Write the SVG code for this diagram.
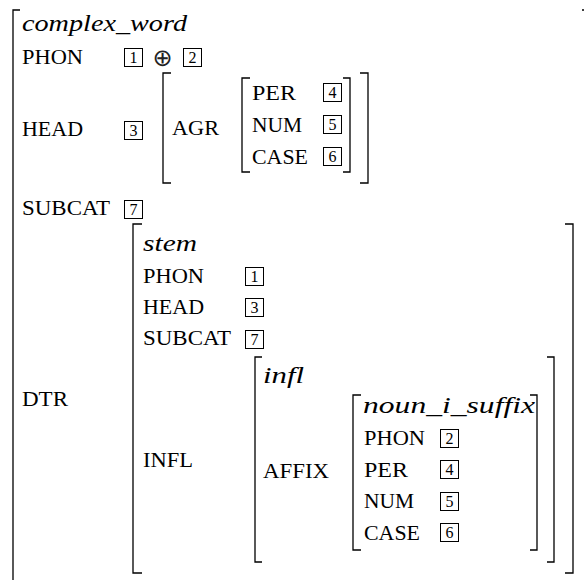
<svg xmlns="http://www.w3.org/2000/svg" width="584" height="580" viewBox="0 0 584 580">
<style>
text{font-family:"Liberation Serif","Times New Roman",serif}
.t{font-size:21px;fill:#000}
.i{font-style:italic;font-size:23px;fill:#000}
.n{font-size:16px;fill:#000;text-anchor:middle}
.b{fill:none;stroke:#000;stroke-width:1.3}
.bx{fill:none;stroke:#000;stroke-width:1}
</style>
<rect width="584" height="580" fill="#fff"/>
<g id="complex_word">
<path class="b" d="M20 10H13V600"/>
<path class="b" d="M582 10H586V600"/>
<text class="i" x="22" y="31" textLength="165" lengthAdjust="spacingAndGlyphs">complex_word</text>
<text class="t" x="22" y="64" textLength="61" lengthAdjust="spacingAndGlyphs">PHON</text>
<rect class="bx" x="124.5" y="48.5" width="18" height="18"/><text class="n" x="133.5" y="63">1</text>
<text x="162.5" y="65.5" style="font-family:'DejaVu Sans',sans-serif;font-size:24px;text-anchor:middle;fill:#222">⊕</text>
<rect class="bx" x="183.5" y="48.5" width="18" height="18"/><text class="n" x="192.5" y="63">2</text>
<text class="t" x="22" y="136" textLength="61" lengthAdjust="spacingAndGlyphs">HEAD</text>
<rect class="bx" x="124.5" y="121.5" width="18" height="18"/><text class="n" x="133.5" y="136">3</text>
<text class="t" x="22" y="215" textLength="88" lengthAdjust="spacingAndGlyphs">SUBCAT</text>
<rect class="bx" x="124.5" y="200.5" width="18" height="18"/><text class="n" x="133.5" y="215">7</text>
<text class="t" x="22" y="406" textLength="46" lengthAdjust="spacingAndGlyphs">DTR</text>
</g>
<g id="agr">
<path class="b" d="M171 73H163V183H171"/>
<path class="b" d="M360 73H368V183H360"/>
<text class="t" x="172" y="135" textLength="47" lengthAdjust="spacingAndGlyphs">AGR</text>
</g>
<g id="agr_value">
<path class="b" d="M250 78H242V172H250"/>
<path class="b" d="M343 78H350V172H343"/>
<text class="t" x="252" y="100" textLength="44" lengthAdjust="spacingAndGlyphs">PER</text>
<rect class="bx" x="323.5" y="83.5" width="18" height="18"/><text class="n" x="332.5" y="98">4</text>
<text class="t" x="252" y="132" textLength="50" lengthAdjust="spacingAndGlyphs">NUM</text>
<rect class="bx" x="323.5" y="115.5" width="18" height="18"/><text class="n" x="332.5" y="130">5</text>
<text class="t" x="252" y="164" textLength="56" lengthAdjust="spacingAndGlyphs">CASE</text>
<rect class="bx" x="323.5" y="147.5" width="18" height="18"/><text class="n" x="332.5" y="162">6</text>
</g>
<g id="stem">
<path class="b" d="M142 224H133V573H142"/>
<path class="b" d="M565 224H573V573H565"/>
<text class="i" x="143" y="251" textLength="54" lengthAdjust="spacingAndGlyphs">stem</text>
<text class="t" x="143" y="283" textLength="61" lengthAdjust="spacingAndGlyphs">PHON</text>
<rect class="bx" x="245.5" y="267.5" width="18" height="18"/><text class="n" x="254.5" y="282">1</text>
<text class="t" x="143" y="314" textLength="61" lengthAdjust="spacingAndGlyphs">HEAD</text>
<rect class="bx" x="245.5" y="298.5" width="18" height="18"/><text class="n" x="254.5" y="313">3</text>
<text class="t" x="143" y="345" textLength="88" lengthAdjust="spacingAndGlyphs">SUBCAT</text>
<rect class="bx" x="245.5" y="330.5" width="18" height="18"/><text class="n" x="254.5" y="345">7</text>
<text class="t" x="143" y="467" textLength="50" lengthAdjust="spacingAndGlyphs">INFL</text>
</g>
<g id="infl">
<path class="b" d="M262 357H255V562H262"/>
<path class="b" d="M547 357H554V562H547"/>
<text class="i" x="263" y="383" textLength="41" lengthAdjust="spacingAndGlyphs">infl</text>
<text class="t" x="263" y="478" textLength="66" lengthAdjust="spacingAndGlyphs">AFFIX</text>
</g>
<g id="noun_i_suffix">
<path class="b" d="M361 395H353V550H361"/>
<path class="b" d="M530 395H537V550H530"/>
<text class="i" x="363" y="413" textLength="172" lengthAdjust="spacingAndGlyphs">noun_i_suffix</text>
<text class="t" x="364" y="445" textLength="61" lengthAdjust="spacingAndGlyphs">PHON</text>
<rect class="bx" x="440.5" y="429.5" width="18" height="18"/><text class="n" x="449.5" y="444">2</text>
<text class="t" x="364" y="477" textLength="44" lengthAdjust="spacingAndGlyphs">PER</text>
<rect class="bx" x="440.5" y="460.5" width="18" height="18"/><text class="n" x="449.5" y="475">4</text>
<text class="t" x="364" y="508" textLength="50" lengthAdjust="spacingAndGlyphs">NUM</text>
<rect class="bx" x="440.5" y="492.5" width="18" height="18"/><text class="n" x="449.5" y="507">5</text>
<text class="t" x="364" y="540" textLength="56" lengthAdjust="spacingAndGlyphs">CASE</text>
<rect class="bx" x="440.5" y="523.5" width="18" height="18"/><text class="n" x="449.5" y="538">6</text>
</g>
<g id="connectors"></g>
</svg>
